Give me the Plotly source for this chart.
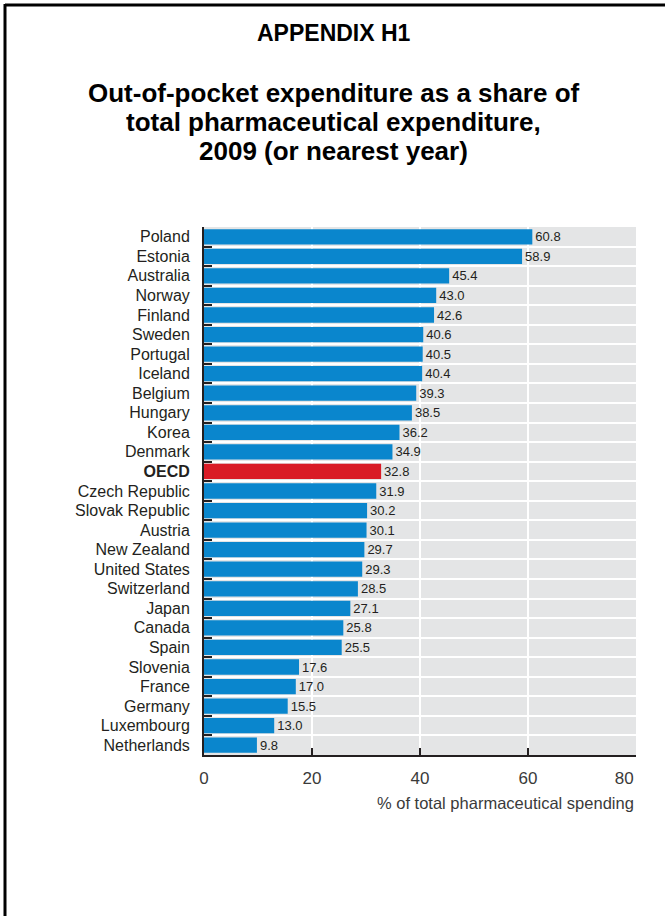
import plotly.graph_objects as go

# Out-of-pocket share of pharmaceutical spending, 2009 (or nearest year)
countries = [
    "Poland", "Estonia", "Australia", "Norway", "Finland", "Sweden", "Portugal",
    "Iceland", "Belgium", "Hungary", "Korea", "Denmark", "OECD", "Czech Republic",
    "Slovak Republic", "Austria", "New Zealand", "United States", "Switzerland",
    "Japan", "Canada", "Spain", "Slovenia", "France", "Germany", "Luxembourg",
    "Netherlands",
]
shares = [
    60.8, 58.9, 45.4, 43.0, 42.6, 40.6, 40.5, 40.4, 39.3, 38.5, 36.2, 34.9, 32.8,
    31.9, 30.2, 30.1, 29.7, 29.3, 28.5, 27.1, 25.8, 25.5, 17.6, 17.0, 15.5, 13.0,
    9.8,
]
x_ticks = [0, 20, 40, 60, 80]
x_tick_labels = ["0", "20", "40", "60", "80"]
highlight = "OECD"

BLUE = "#0a86cd"
RED = "#d91b26"
INK = "#231f20"
GREY_TXT = "#3a3a3a"
NARROW = "Liberation Sans Narrow, Arial Narrow, Liberation Sans, sans-serif"
BOLD = "Liberation Sans, Arial, sans-serif"

bar_colors = [RED if c == highlight else BLUE for c in countries]
tick_text = [f"<b>{c}</b>" if c == highlight else c for c in countries]
# last x label sits inside the frame, pulled left of its tick
x_tick_text = x_tick_labels[:-1] + [x_tick_labels[-1] + "&nbsp;" * 5]

fig = go.Figure(
    go.Bar(
        x=shares,
        y=countries,
        orientation="h",
        width=0.78,
        marker=dict(color=bar_colors, line=dict(width=0)),
        text=shares,
        texttemplate="%{x:.1f}",
        textposition="outside",
        constraintext="none",
        cliponaxis=False,
        textfont=dict(family=NARROW, size=13, color=INK),
        hoverinfo="skip",
    )
)

W, H = 665, 916
L, R, T, B = 204, 29, 227, 161
plot_w = W - L - R
plot_h = H - T - B


def px_x(px):
    return (px - L) / plot_w


def px_y(py):
    return (H - B - py) / plot_h


fig.update_layout(
    width=W,
    height=H,
    margin=dict(l=L, r=R, t=T, b=B, autoexpand=False),
    paper_bgcolor="white",
    plot_bgcolor="#e4e5e6",
    showlegend=False,
    font=dict(family=NARROW, color=INK),
)

fig.update_xaxes(
    range=[0, 80],
    tickvals=x_ticks,
    ticktext=x_tick_text,
    ticks="inside",
    ticklen=7,
    tickwidth=2,
    tickcolor=INK,
    showline=True,
    linecolor=INK,
    linewidth=2,
    showgrid=True,
    gridcolor="white",
    gridwidth=2,
    zeroline=False,
    tickfont=dict(family=NARROW, size=17, color=GREY_TXT),
    ticklabelstandoff=7,
    automargin=False,
    fixedrange=True,
)

fig.update_yaxes(
    categoryorder="array",
    categoryarray=countries,
    autorange="reversed",
    tickvals=countries,
    ticktext=tick_text,
    tickson="boundaries",
    ticks="inside",
    ticklen=8,
    tickwidth=2,
    tickcolor=INK,
    showline=True,
    linecolor=INK,
    linewidth=2,
    showgrid=True,
    gridcolor="white",
    gridwidth=2,
    tickfont=dict(family=NARROW, size=16, color=INK),
    ticklabelstandoff=9,
    automargin=False,
    fixedrange=True,
)

title_lines = [
    ("APPENDIX H1", 33, 23),
    ("Out-of-pocket expenditure as a share of", 93, 26),
    ("total pharmaceutical expenditure,", 122, 26),
    ("2009 (or nearest year)", 151, 26),
]
annotations = [
    dict(
        text=f"<b>{txt}</b>",
        xref="paper", yref="paper",
        x=px_x(W / 2 + 1), y=px_y(yc),
        xanchor="center", yanchor="middle",
        showarrow=False,
        font=dict(family=BOLD, size=sz, color="#000000"),
    )
    for txt, yc, sz in title_lines
]
annotations.append(
    dict(
        text="% of total pharmaceutical spending",
        xref="paper", yref="paper",
        x=1, y=px_y(803),
        xanchor="right", yanchor="middle",
        showarrow=False,
        font=dict(family=NARROW, size=16.5, color=GREY_TXT),
    )
)
fig.update_layout(annotations=annotations)

# Page frame: top rule and left rule
frame = dict(color="#000000", width=3)
fig.update_layout(
    shapes=[
        dict(type="line", xref="paper", yref="paper",
             x0=px_x(5), x1=px_x(W), y0=px_y(5), y1=px_y(5), line=frame),
        dict(type="line", xref="paper", yref="paper",
             x0=px_x(5), x1=px_x(5), y0=px_y(4), y1=px_y(H), line=frame),
    ]
)

fig.write_html("out.html")
